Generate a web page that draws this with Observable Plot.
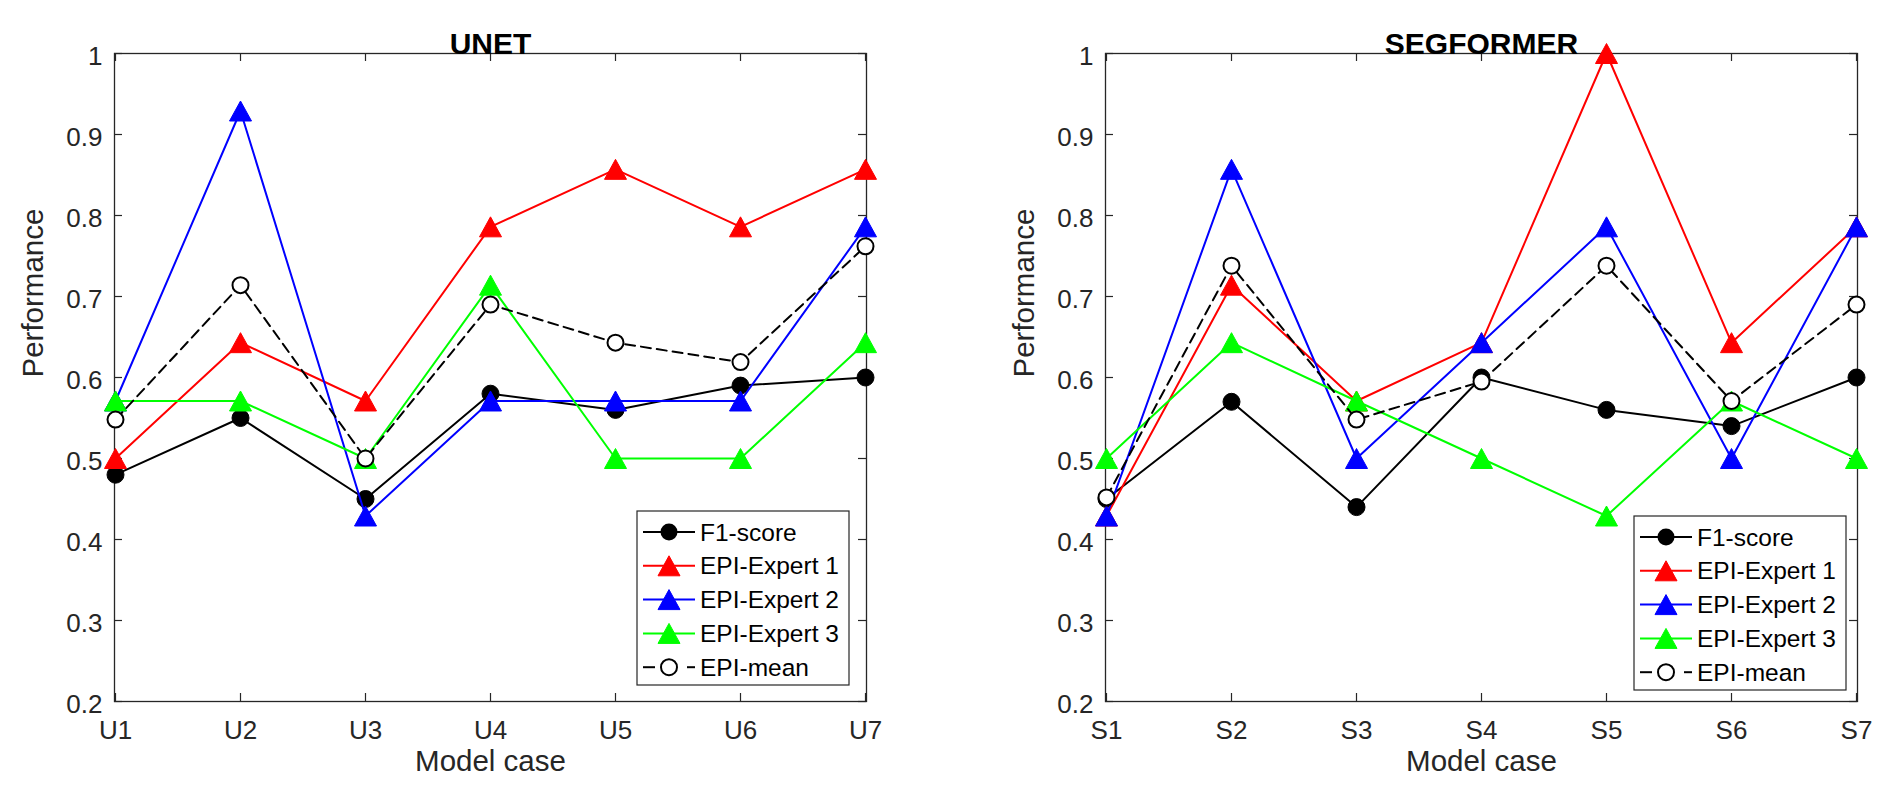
<!DOCTYPE html>
<html>
<head>
<meta charset="utf-8">
<script src="https://cdn.jsdelivr.net/npm/d3@7"></script>
<script src="https://cdn.jsdelivr.net/npm/@observablehq/plot@0.6"></script>
<style>
  html, body { margin: 0; padding: 0; background: #fff; }
  #wrap { position: relative; width: 1892px; height: 799px; display: flex; font-family: "Liberation Sans", Arial, sans-serif; }
  #wrap svg { overflow: visible; }
</style>
</head>
<body>
<div id="wrap"></div>
<script>
// ---- data ----
const unetCases = ["U1", "U2", "U3", "U4", "U5", "U6", "U7"];
const segCases = ["S1", "S2", "S3", "S4", "S5", "S6", "S7"];
const yTicks = [0.2, 0.3, 0.4, 0.5, 0.6, 0.7, 0.8, 0.9, 1];
const seriesNames = ["F1-score", "EPI-Expert 1", "EPI-Expert 2", "EPI-Expert 3", "EPI-mean"];

const unetF1      = [0.48, 0.55, 0.45, 0.58, 0.56, 0.59, 0.60];
const unetExpert1 = [0.500, 0.643, 0.571, 0.786, 0.857, 0.786, 0.857];
const unetExpert2 = [0.571, 0.929, 0.429, 0.571, 0.571, 0.571, 0.786];
const unetExpert3 = [0.571, 0.571, 0.500, 0.714, 0.500, 0.500, 0.643];
const unetMean    = [0.548, 0.714, 0.500, 0.690, 0.643, 0.619, 0.762];

const segF1      = [0.45, 0.57, 0.44, 0.60, 0.56, 0.54, 0.60];
const segExpert1 = [0.429, 0.714, 0.571, 0.643, 1.000, 0.643, 0.786];
const segExpert2 = [0.429, 0.857, 0.500, 0.643, 0.786, 0.500, 0.786];
const segExpert3 = [0.500, 0.643, 0.571, 0.500, 0.429, 0.571, 0.500];
const segMean    = [0.452, 0.738, 0.548, 0.595, 0.738, 0.571, 0.690];

// ---- styles ----
const triUp = {
  draw(ctx, size) {
    const r = Math.sqrt(size / Math.PI);
    const w = r * 1.1;
    ctx.moveTo(0, -r); ctx.lineTo(w, r); ctx.lineTo(-w, r); ctx.closePath();
  }
};
const styles = [
  {color: "#000000", kind: "filledCircle", dash: null},
  {color: "#ff0000", kind: "triangle", dash: null},
  {color: "#0000ff", kind: "triangle", dash: null},
  {color: "#00ff00", kind: "triangle", dash: null},
  {color: "#000000", kind: "openCircle", dash: "10,6"}
];
const FONT = "'Liberation Sans', Arial, sans-serif";
const AX = "#262626";

function markerMarks(data, st) {
  if (st.kind === "triangle")
    return Plot.dot(data, {x: "c", y: "v", symbol: triUp, r: 10, fill: st.color, stroke: st.color, strokeWidth: 1});
  if (st.kind === "filledCircle")
    return Plot.dot(data, {x: "c", y: "v", r: 8.5, fill: st.color, stroke: st.color, strokeWidth: 1});
  return Plot.dot(data, {x: "c", y: "v", r: 8, fill: "white", stroke: st.color, strokeWidth: 2});
}

function panel(cases, seriesVals, title, W, mL, mR, legend) {
  const marks = [];
  const fh = 799 - 53 - 98, fw = W - mL - mR;
  marks.push(Plot.frame({stroke: AX, strokeWidth: 1.3}));
  marks.push(Plot.tickX(cases, {x: d => d, insetTop: fh - 8, stroke: AX, strokeWidth: 1.2}));
  marks.push(Plot.tickX(cases, {x: d => d, insetBottom: fh - 8, stroke: AX, strokeWidth: 1.2}));
  marks.push(Plot.tickY(yTicks, {y: d => d, insetRight: fw - 8, stroke: AX, strokeWidth: 1.2}));
  marks.push(Plot.tickY(yTicks, {y: d => d, insetLeft: fw - 8, stroke: AX, strokeWidth: 1.2}));
  marks.push(Plot.axisX(cases, {tickSize: 0, tickPadding: 19, fontSize: 26, fill: AX, label: null}));
  marks.push(Plot.axisY(yTicks, {tickSize: 0, tickPadding: 12, fontSize: 26, fill: AX, dy: 3, label: null, tickFormat: d3.format("~g")}));
  seriesVals.forEach((vals, k) => {
    const st = styles[k];
    const data = cases.map((c, i) => ({c, v: vals[i]}));
    marks.push(Plot.line(data, {x: "c", y: "v", stroke: st.color, strokeWidth: 2, strokeDasharray: st.dash || undefined}));
    marks.push(markerMarks(data, st));
  });
  marks.push(Plot.text([title], {text: d => d, frameAnchor: "top", dy: -21, fontSize: 30, fontWeight: "bold", fill: "#000"}));
  marks.push(Plot.text(["Model case"], {text: d => d, frameAnchor: "bottom", dy: 69, fontSize: 29.5, fill: AX}));
  marks.push(Plot.text(["Performance"], {text: d => d, frameAnchor: "left", dx: -81, rotate: -90, fontSize: 29.5, fill: AX}));

  const svg = Plot.plot({
    width: W, height: 799,
    marginLeft: mL, marginRight: mR, marginTop: 53, marginBottom: 98,
    x: {type: "point", domain: cases, padding: 0, axis: null, label: null},
    y: {domain: [0.2, 1], axis: null, label: null},
    style: {fontFamily: FONT, background: "white", overflow: "visible"},
    marks
  });

  // legend box
  const g = d3.select(svg).append("g").attr("font-family", FONT).attr("text-anchor", "start");
  g.append("rect").attr("x", legend.x).attr("y", legend.y).attr("width", 212).attr("height", 174)
    .attr("fill", "white").attr("stroke", AX).attr("stroke-width", 1.2);
  seriesNames.forEach((name, i) => {
    const st = styles[i];
    const cy = legend.y + 21 + i * 33.8;
    const x0 = legend.x + 6, xm = legend.x + 32, x1 = legend.x + 58;
    if (st.kind === "openCircle") {
      g.append("line").attr("x1", x0).attr("x2", x0 + 12).attr("y1", cy).attr("y2", cy).attr("stroke", st.color).attr("stroke-width", 2);
      g.append("line").attr("x1", x1 - 8).attr("x2", x1).attr("y1", cy).attr("y2", cy).attr("stroke", st.color).attr("stroke-width", 2);
      g.append("circle").attr("cx", xm).attr("cy", cy).attr("r", 8).attr("fill", "white").attr("stroke", st.color).attr("stroke-width", 2);
    } else {
      g.append("line").attr("x1", x0).attr("x2", x1).attr("y1", cy).attr("y2", cy).attr("stroke", st.color).attr("stroke-width", 2);
      if (st.kind === "triangle") {
        g.append("path").attr("d", `M${xm},${cy - 10}L${xm + 11},${cy + 10}L${xm - 11},${cy + 10}Z`).attr("fill", st.color).attr("stroke", st.color);
      } else {
        g.append("circle").attr("cx", xm).attr("cy", cy).attr("r", 8.5).attr("fill", st.color);
      }
    }
    g.append("text").attr("x", legend.x + 63).attr("y", cy).attr("dy", "0.35em").attr("text-anchor", "start")
      .attr("font-size", 24.5).attr("fill", "#000").text(name);
  });
  return svg;
}

const wrap = document.getElementById("wrap");
wrap.appendChild(panel(unetCases, [unetF1, unetExpert1, unetExpert2, unetExpert3, unetMean], "UNET", 946, 114, 80, {x: 637, y: 511}));
wrap.appendChild(panel(segCases, [segF1, segExpert1, segExpert2, segExpert3, segMean], "SEGFORMER", 946, 159, 35, {x: 1634 - 946, y: 516}));
</script>
</body>
</html>
